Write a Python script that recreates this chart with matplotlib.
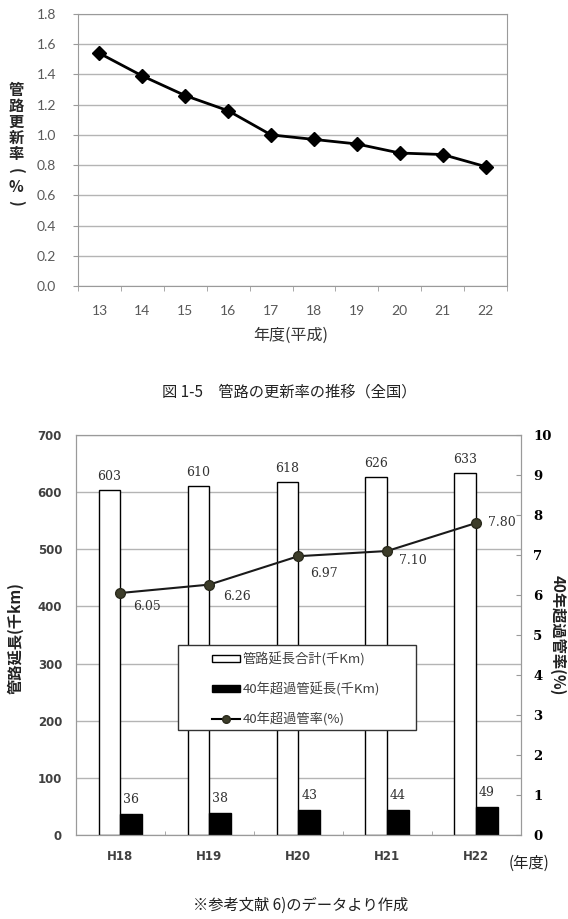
import numpy as np
import matplotlib
matplotlib.use('Agg')
import matplotlib.pyplot as plt
from matplotlib.patches import Rectangle
from matplotlib.lines import Line2D

# data: pipe renewal rate (top), pipe length / over-40-year pipes (bottom)
years = ['13', '14', '15', '16', '17', '18', '19', '20', '21', '22']
renewal_rate = [1.54, 1.39, 1.26, 1.16, 1.00, 0.97, 0.94, 0.88, 0.87, 0.79]

fiscal = ['H18', 'H19', 'H20', 'H21', 'H22']
total_len = [603, 610, 618, 626, 633]
over40_len = [36, 38, 43, 44, 49]
over40_rate = [6.05, 6.26, 6.97, 7.10, 7.80]
rate_offsets = [(13, -13), (14, -12), (12, -17), (12, -9), (12, 0)]  # px

W, H = 568, 919
fig = plt.figure(figsize=(W / 100, H / 100), dpi=100)
CJK = ['Noto Sans CJK JP', 'DejaVu Sans']
GRID = '#b4b4b4'
SPINE = '#9a9a9a'


def box(l, t, r, b):
    return [l / W, 1 - b / H, (r - l) / W, (b - t) / H]


def ftext(x, y, s, **kw):
    fig.text(x / W, 1 - y / H, s, ha='center', va='center', **kw)


# ---- top chart ----
ax1 = fig.add_axes(box(78, 14, 507, 286))
xs = np.arange(len(years))
ax1.plot(xs, renewal_rate, color='black', lw=2, marker='D', ms=7, zorder=3)
ax1.set_xlim(-0.5, len(years) - 0.5)
ax1.set_ylim(0, 1.8)
yt = np.arange(0, 1.81, 0.2)
ax1.set_yticks(yt)
ax1.set_yticklabels(['%.1f' % v for v in yt], family='Lato', fontsize=10, color='#595959')
ax1.set_xticks(xs)
ax1.set_xticklabels(years, family='Lato', fontsize=10, color='#595959')
ax1.set_xticks(np.arange(-0.5, len(years)), minor=True)
ax1.tick_params(axis='x', which='major', length=0, pad=14)
ax1.tick_params(axis='x', which='minor', length=3.6, color=SPINE, direction='out')
ax1.tick_params(axis='y', length=3.6, color=SPINE, pad=12)
ax1.grid(axis='y', color=GRID, lw=1)
ax1.set_axisbelow(True)
for s in ax1.spines.values():
    s.set_color(SPINE)

# vertical (stacked) y label
ylab_chars = ['管', '路', '更', '新', '率', '(', '%', ')']
for k, ch in enumerate(ylab_chars):
    rot = 270 if ch in ('(', ')') else 0
    ftext(16, 90 + k * 16.1, ch, family=CJK, fontsize=11, fontweight='bold',
          color='#262626', rotation=rot)
ftext(291, 335, '年度(平成)', family=CJK, fontsize=11.5, color='#333333')
ftext(289, 392, '図 1-5　管路の更新率の推移（全国）', family=CJK, fontsize=11, color='#222222')

# ---- bottom chart ----
ax2 = fig.add_axes(box(76, 435, 520.6, 835))
xb = np.arange(len(fiscal))
bw = 0.245
ax2.bar(xb - bw / 2, total_len, bw, color='white', edgecolor='black', lw=1, zorder=2)
ax2.bar(xb + bw / 2, over40_len, bw, color='black', edgecolor='black', lw=1, zorder=2)
for i in xb:
    ax2.annotate(str(total_len[i]), (i - bw / 2, total_len[i]), xytext=(0, 5),
                 textcoords='offset points', ha='center', va='bottom',
                 family='DejaVu Serif', fontsize=9, color='#333333')
    ax2.annotate(str(over40_len[i]), (i + bw / 2, over40_len[i]), xytext=(0, 6),
                 textcoords='offset points', ha='center', va='bottom',
                 family='DejaVu Serif', fontsize=9, color='#333333')
ax2.set_xlim(-0.5, len(fiscal) - 0.5)
ax2.set_ylim(0, 700)
ax2.set_yticks(range(0, 701, 100))
ax2.set_yticklabels([str(v) for v in range(0, 701, 100)], family='DejaVu Sans',
                    fontsize=8.5, fontweight='bold', color='#404040')
ax2.set_xticks(xb)
ax2.set_xticklabels(fiscal, family='DejaVu Sans', fontsize=8.5, fontweight='bold', color='#404040')
ax2.set_xticks(np.arange(-0.5, len(fiscal)), minor=True)
ax2.tick_params(axis='x', which='major', length=0, pad=11)
ax2.tick_params(axis='x', which='minor', length=3, color=SPINE, direction='in')
ax2.tick_params(axis='y', length=0, pad=10)
ax2.grid(axis='y', color=GRID, lw=1)
ax2.set_axisbelow(True)
for s in ax2.spines.values():
    s.set_color(SPINE)

ax3 = ax2.twinx()
ax3.set_ylim(0, 10)
ax3.set_yticks(range(0, 11))
ax3.set_yticklabels([str(v) for v in range(0, 11)], family='DejaVu Serif',
                    fontsize=9.5, fontweight='bold', color='black')
ax3.tick_params(axis='y', length=3.6, color=SPINE, direction='in', pad=9)
for s in ax3.spines.values():
    s.set_color(SPINE)
ax3.plot(xb, over40_rate, color='#1a1a1a', lw=1.5, marker='o', ms=7,
         mfc='#3d3d2a', mec='#2a2a1c', zorder=4)
for i in xb:
    dx, dy = rate_offsets[i]
    ax3.annotate('%.2f' % over40_rate[i], (i, over40_rate[i]), xytext=(dx * 0.72, dy * 0.72),
                 textcoords='offset points', ha='left', va='center',
                 family='DejaVu Serif', fontsize=9, color='#333333')

# legend with a manual frame
frame = Rectangle((178 / W, 1 - 730 / H), (416 - 178) / W, (730 - 645) / H,
                  transform=fig.transFigure, facecolor='white', edgecolor='#333333',
                  lw=1, zorder=10)
ax3.add_artist(frame)
handles = [Rectangle((0, 0), 1, 1, facecolor='white', edgecolor='black', lw=1),
           Rectangle((0, 0), 1, 1, facecolor='black', edgecolor='black', lw=1),
           Line2D([], [], color='black', lw=1.5, marker='o', ms=5.5, mfc='#3d3d2a', mec='#2a2a1c')]
labels = ['管路延長合計(千Km)', '40年超過管延長(千Km)', '40年超過管率(%)']
leg = ax3.legend(handles, labels, loc='upper left', bbox_to_anchor=(212 / W, 1 - 652 / H),
                 bbox_transform=fig.transFigure, frameon=False, borderpad=0, borderaxespad=0,
                 handlelength=2.1, handleheight=0.4, handletextpad=0.2, labelspacing=1.2,
                 prop={'family': CJK, 'size': 9.5})
leg.set_zorder(11)
for t in leg.get_texts():
    t.set_color('#404040')

ftext(15, 638, '管路延長(千km)', family=CJK, fontsize=11, fontweight='bold',
      rotation=90, color='#222222')
ftext(558, 635, '40年超過管率(%)', family=CJK, fontsize=11, fontweight='bold',
      rotation=270, color='#222222')
ftext(529, 863, '(年度)', family=CJK, fontsize=11, color='#222222')
ftext(301, 905, '※参考文献 6)のデータより作成', family=CJK, fontsize=11, color='#222222')

fig.savefig('out.png', dpi=100)
